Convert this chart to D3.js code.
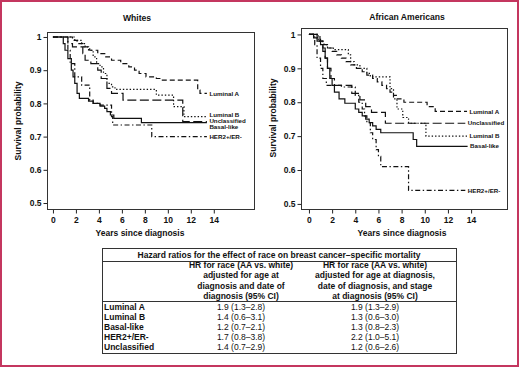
<!DOCTYPE html>
<html>
<head>
<meta charset="utf-8">
<script src="https://cdn.jsdelivr.net/npm/d3@7"></script>
<style>
  body { margin: 0; background: #fff; }
  svg text { font-family: "Liberation Sans", Arial, Helvetica, sans-serif; fill: #111; }
</style>
</head>
<body>
<svg id="chart" width="520" height="368"></svg>
<script>
// ---- data ----
const subtypes = ["Luminal A", "Luminal B", "Basal-like", "HER2+/ER-", "Unclassified"]
const xTicks = [0, 2, 4, 6, 8, 10, 12, 14]
const yTicks = [0.5, 0.6, 0.7, 0.8, 0.9, 1]

// Whites: [years, survival]
const whitesLumA = [[0,1],[1.7,0.99],[2.1,0.98],[2.6,0.97],[3.2,0.96],[3.9,0.95],[4.6,0.94],[5.1,0.93],[5.9,0.92],[6.6,0.91],[7.1,0.90],[7.5,0.89],[8.1,0.88],[9.0,0.875],[9.4,0.87],[12.6,0.84],[12.8,0.83],[13.4,0.83]]
const whitesLumB = [[0,1],[1.9,0.99],[2.5,0.98],[2.8,0.97],[3.1,0.96],[3.5,0.94],[3.8,0.92],[4.1,0.91],[4.4,0.89],[4.7,0.86],[5.1,0.85],[5.4,0.842],[9.0,0.825],[10.5,0.79],[11.4,0.76],[13.4,0.76]]
const whitesBasal = [[0,1],[0.9,0.98],[1.05,0.96],[1.3,0.935],[1.6,0.90],[1.75,0.88],[1.9,0.86],[2.1,0.83],[2.3,0.815],[3.1,0.807],[3.5,0.80],[4.1,0.792],[4.5,0.785],[4.7,0.775],[5.0,0.765],[5.3,0.755],[7.7,0.742],[13.4,0.742]]
const whitesHer2 = [[0,1],[1.3,0.96],[1.5,0.92],[1.9,0.88],[2.5,0.855],[3.2,0.81],[3.5,0.80],[4.1,0.795],[5.1,0.76],[5.2,0.735],[8.6,0.70],[13.4,0.70]]
const whitesUncl = [[0,1],[1.3,0.98],[1.7,0.97],[2.6,0.95],[2.8,0.93],[3.3,0.92],[3.9,0.90],[4.2,0.875],[4.7,0.845],[5.1,0.83],[6.1,0.81],[11.3,0.745],[13.4,0.745]]

// African Americans
const aaLumA = [[0,1],[0.7,0.99],[1.0,0.98],[1.3,0.97],[1.6,0.96],[2.0,0.95],[2.4,0.94],[2.8,0.93],[3.2,0.92],[3.6,0.91],[4.1,0.90],[4.6,0.89],[5.0,0.88],[5.5,0.87],[5.9,0.86],[6.3,0.85],[6.7,0.84],[7.0,0.83],[7.3,0.82],[7.6,0.81],[8.2,0.80],[10.2,0.787],[10.9,0.773],[13.65,0.773]]
const aaLumB = [[0,1],[0.8,0.98],[1.2,0.97],[1.6,0.96],[2.1,0.955],[3.4,0.94],[3.6,0.92],[3.9,0.91],[4.4,0.90],[5.0,0.885],[5.3,0.875],[7.0,0.84],[7.3,0.81],[7.6,0.78],[8.1,0.755],[8.6,0.738],[10.1,0.70],[13.65,0.70]]
const aaBasal = [[0,1],[0.4,0.99],[0.7,0.98],[1.0,0.97],[1.2,0.95],[1.4,0.93],[1.6,0.90],[1.8,0.87],[2.0,0.85],[2.2,0.83],[2.6,0.81],[3.1,0.797],[4.0,0.78],[4.3,0.77],[4.6,0.76],[4.9,0.75],[5.2,0.74],[5.5,0.73],[5.8,0.72],[6.2,0.71],[9.0,0.69],[9.3,0.67],[13.7,0.67]]
const aaHer2 = [[0,1],[0.5,0.97],[0.7,0.93],[1.0,0.90],[1.2,0.87],[1.5,0.85],[2.8,0.845],[4.0,0.82],[4.3,0.80],[4.6,0.78],[4.8,0.76],[5.0,0.74],[5.3,0.71],[5.5,0.69],[5.8,0.66],[6.0,0.64],[6.2,0.61],[8.6,0.54],[13.5,0.54]]
const aaUncl = [[0,1],[0.95,0.98],[1.2,0.96],[1.4,0.93],[1.6,0.90],[1.9,0.87],[2.2,0.85],[3.7,0.826],[4.4,0.807],[4.9,0.787],[5.4,0.77],[6.6,0.738],[13.5,0.738]]

// hazard ratio table
const tableTitle = "Hazard ratios for the effect of race on breast cancer\u2013specific mortality"
const headAgeDate = ["HR for race (AA vs. white)", "adjusted for age at", "diagnosis and date of", "diagnosis (95% CI)"]
const headAgeDateStage = ["HR for race (AA vs. white)", "adjusted for age at diagnosis,", "date of diagnosis, and stage", "at diagnosis (95% CI)"]
const hrAgeDate = ["1.9 (1.3\u20132.8)", "1.4 (0.6\u20133.1)", "1.2 (0.7\u20132.1)", "1.7 (0.8\u20133.8)", "1.4 (0.7\u20132.9)"]
const hrAgeDateStage = ["1.9 (1.3\u20132.9)", "1.3 (0.6\u20133.0)", "1.3 (0.8\u20132.3)", "2.2 (1.0\u20135.1)", "1.2 (0.6\u20132.6)"]

const svg = d3.select("#chart")

// frame
svg.append("rect")
  .attr("x", 1).attr("y", 1).attr("width", 517).attr("height", 365)
  .attr("fill", "none").attr("stroke", "#c4365f").attr("stroke-width", 2)

// line styles per subtype
const dashes = {
  "Luminal A": "5,3",
  "Luminal B": "1.4,2",
  "Basal-like": null,
  "HER2+/ER-": "5,2.5,1.4,2.5",
  "Unclassified": "9,3.5"
}

function drawPanel(p, series) {
  const x = d3.scaleLinear().domain(p.xDom).range([p.x0, p.x1])
  const y = d3.scaleLinear().domain(p.yDom).range([p.y1, p.y0])
  const g = svg.append("g")

  g.append("text")
    .attr("x", p.titleX).attr("y", p.titleY)
    .attr("text-anchor", "middle")
    .style("font-size", "8.6px").style("font-weight", "bold")
    .text(p.title)

  // y axis
  const ya = g.append("g")
    .attr("transform", "translate(" + (p.x0 - 0.5) + ",0)")
    .call(d3.axisLeft(y).tickValues(yTicks).tickSize(4).tickPadding(2)
      .tickFormat(d => d === 1 ? "1" : d.toFixed(1)))
  // x axis
  const xa = g.append("g")
    .attr("transform", "translate(0," + (p.y1 + 0.5) + ")")
    .call(d3.axisBottom(x).tickValues(xTicks).tickSize(4).tickPadding(3))
  ;[ya, xa].forEach(a => {
    a.select(".domain").remove()
    a.selectAll("line").attr("stroke", "#222")
    a.selectAll("text").style("font-size", "8.5px").style("font-weight", "bold")
      .style("font-family", "'Liberation Sans', Arial, sans-serif").attr("fill", "#111")
  })

  // plot frame
  g.append("rect")
    .attr("x", p.x0 - 0.5).attr("y", p.y0 + 0.5)
    .attr("width", p.x1 - p.x0 + 1).attr("height", p.y1 - p.y0)
    .attr("fill", "none").attr("stroke", "#333").attr("stroke-width", 1)

  const line = d3.line()
    .x(d => x(d[0])).y(d => y(d[1]))
    .curve(d3.curveStepAfter)

  series.forEach(s => {
    g.append("path")
      .datum(s.values)
      .attr("d", line)
      .attr("fill", "none")
      .attr("stroke", "#111")
      .attr("stroke-width", 1.2)
      .attr("stroke-dasharray", dashes[s.name])

    const last = s.values[s.values.length - 1]
    g.append("text")
      .attr("x", x(last[0]) + 2.5)
      .attr("y", y(last[1]) + 2.2 + (p.labelDy[s.name] || 0))
      .style("font-size", "6.2px").style("font-weight", "bold")
      .text(s.name)
  })

  g.append("text")
    .attr("transform", "translate(" + p.yLabX + "," + p.yLabY + ") rotate(-90)")
    .attr("text-anchor", "middle")
    .style("font-size", "8.5px").style("font-weight", "bold")
    .text("Survival probability")

  g.append("text")
    .attr("x", p.xLabX).attr("y", 236)
    .attr("text-anchor", "middle")
    .style("font-size", "8.5px").style("font-weight", "bold")
    .text("Years since diagnosis")
}

drawPanel({
  title: "Whites", titleX: 137, titleY: 21,
  x0: 48, x1: 254, y0: 32, y1: 209,
  xDom: [-0.43, 17.5], yDom: [0.482, 1.015],
  yLabX: 21, yLabY: 121, xLabX: 140,
  labelDy: { "Luminal B": -2.2, "Unclassified": -0.8, "Basal-like": 4.4 }
}, [
  { name: "Luminal A", values: whitesLumA },
  { name: "Luminal B", values: whitesLumB },
  { name: "Unclassified", values: whitesUncl },
  { name: "Basal-like", values: whitesBasal },
  { name: "HER2+/ER-", values: whitesHer2 }
])

drawPanel({
  title: "African Americans", titleX: 407, titleY: 20,
  x0: 302, x1: 507, y0: 28, y1: 209,
  xDom: [-0.6, 17.1], yDom: [0.485, 1.019],
  yLabX: 276, yLabY: 118, xLabX: 402,
  labelDy: {}
}, [
  { name: "Luminal A", values: aaLumA },
  { name: "Unclassified", values: aaUncl },
  { name: "Luminal B", values: aaLumB },
  { name: "Basal-like", values: aaBasal },
  { name: "HER2+/ER-", values: aaHer2 }
])

// ---- table ----
const tb = { x0: 102, x1: 456, y0: 248, y1: 353, c2: 241, c3: 375 }
const t = svg.append("g")
t.append("rect")
  .attr("x", tb.x0 + 0.5).attr("y", tb.y0 + 0.5)
  .attr("width", tb.x1 - tb.x0).attr("height", tb.y1 - tb.y0)
  .attr("fill", "none").attr("stroke", "#333")
;[261, 301].forEach(yy => {
  t.append("line")
    .attr("x1", tb.x0).attr("x2", tb.x1 + 1)
    .attr("y1", yy + 0.5).attr("y2", yy + 0.5)
    .attr("stroke", "#333")
})
t.append("text")
  .attr("x", (tb.x0 + tb.x1) / 2).attr("y", 257.6)
  .attr("text-anchor", "middle")
  .style("font-size", "8.5px").style("font-weight", "bold")
  .text(tableTitle)

const headY = d3.scaleLinear().domain([0, 1]).range([268.2, 278.4])
headAgeDate.forEach((s, i) => {
  t.append("text").attr("x", tb.c2).attr("y", headY(i))
    .attr("text-anchor", "middle")
    .style("font-size", "8.5px").style("font-weight", "bold").text(s)
})
headAgeDateStage.forEach((s, i) => {
  t.append("text").attr("x", tb.c3).attr("y", headY(i))
    .attr("text-anchor", "middle")
    .style("font-size", "8.5px").style("font-weight", "bold").text(s)
})

const rowY = d3.scaleBand().domain(subtypes).range([302, 352])
subtypes.forEach((s, i) => {
  const yy = rowY(s) + rowY.bandwidth() / 2 + 3
  t.append("text").attr("x", tb.x0 + 2).attr("y", yy)
    .style("font-size", "8.5px").style("font-weight", "bold").text(s)
  t.append("text").attr("x", tb.c2).attr("y", yy).attr("text-anchor", "middle")
    .style("font-size", "8.5px").text(hrAgeDate[i])
  t.append("text").attr("x", tb.c3).attr("y", yy).attr("text-anchor", "middle")
    .style("font-size", "8.5px").text(hrAgeDateStage[i])
})
</script>
</body>
</html>
